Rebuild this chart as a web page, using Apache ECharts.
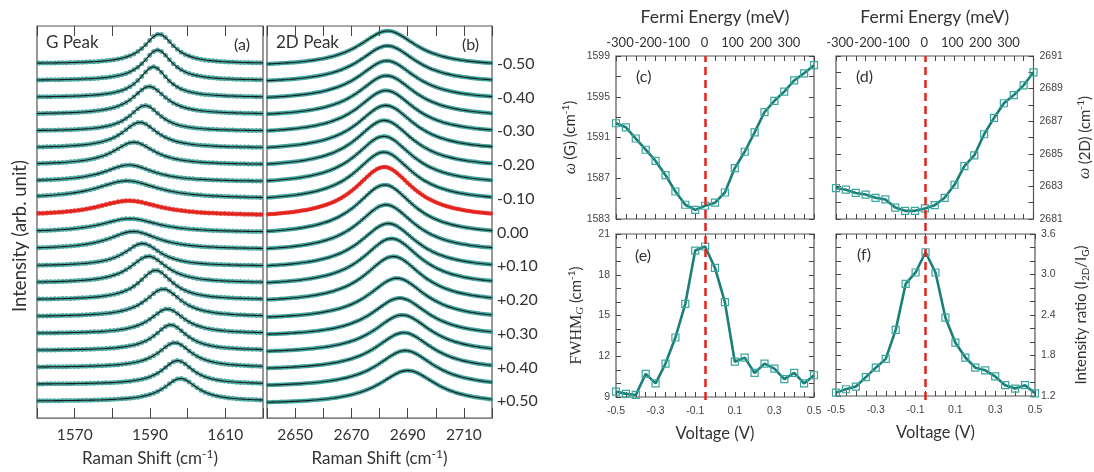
<!DOCTYPE html>
<html>
<head>
<meta charset="utf-8">
<script src="https://cdn.jsdelivr.net/npm/echarts@6/dist/echarts.min.js"></script>
<style>
  html, body { margin: 0; padding: 0; background: #fff; }
  #chart { width: 1094px; height: 472px; }
</style>
</head>
<body>
<div id="chart"></div>
<script>
// gate voltage of each spectrum / each point in (c)-(f)
const voltages = [-0.50, -0.45, -0.40, -0.35, -0.30, -0.25, -0.20, -0.15, -0.10, -0.05,
  0.00, 0.05, 0.10, 0.15, 0.20, 0.25, 0.30, 0.35, 0.40, 0.45, 0.50]
// (c) G peak position (cm-1)
const posG = [1592.4, 1592.0, 1590.9, 1589.8, 1588.7, 1587.3, 1585.7, 1584.4, 1583.9, 1584.3,
  1584.6, 1585.6, 1588.0, 1589.6, 1591.5, 1593.5, 1594.6, 1595.5, 1596.6, 1597.3, 1598.1]
// (d) 2D peak position (cm-1)
const pos2D = [2682.9, 2682.8, 2682.6, 2682.5, 2682.3, 2682.2, 2681.7, 2681.5, 2681.5, 2681.65,
  2681.85, 2682.3, 2683.1, 2684.25, 2684.9, 2686.2, 2687.2, 2688.1, 2688.6, 2689.2, 2690.0]
// (e) FWHM of G (cm-1)
const fwhmG = [9.4, 9.23, 9.15, 10.7, 10.0, 11.46, 13.38, 15.86, 19.78, 20.08,
  18.5, 15.98, 11.6, 11.9, 10.77, 11.46, 11.09, 10.32, 10.77, 10.0, 10.6]
// (f) I2D / IG
const ratio = [1.25, 1.30, 1.34, 1.48, 1.62, 1.75, 2.18, 2.86, 3.03, 3.33,
  3.03, 2.36, 1.99, 1.77, 1.62, 1.58, 1.49, 1.36, 1.31, 1.36, 1.24]
// peak heights of the stacked spectra (a) and (b), arb. unit (spacing between spectra = 1)
const heightG = [1.76, 1.82, 1.82, 1.65, 1.53, 1.53, 1.35, 1.0, 1.06, 0.88,
  0.82, 1.06, 1.35, 1.59, 1.76, 1.65, 1.47, 1.53, 1.47, 1.41, 1.35]
const height2D = [2.12, 2.24, 2.35, 2.47, 2.59, 2.71, 2.82, 2.88, 2.94, 3.06,
  3.0, 2.82, 2.71, 2.82, 2.76, 2.47, 2.29, 2.29, 2.24, 2.18, 2.0]
const fwhm2D = 25
const base2DShift = -0.18
const highlight = 9 // V = -0.05 (charge neutrality), drawn in red

// tick labels
const offsetLabels = ['-0.50', '-0.40', '-0.30', '-0.20', '-0.10', '0.00', '+0.10', '+0.20', '+0.30', '+0.40', '+0.50']
const ramanGLabels = [1570, 1590, 1610]
const raman2DLabels = [2650, 2670, 2690, 2710]
const fermiLabels = [-300, -200, -100, 0, 100, 200, 300]
const voltLabels = [-0.5, -0.3, -0.1, 0.1, 0.3, 0.5]
const voltTicks = [-0.5, -0.45, -0.4, -0.35, -0.3, -0.25, -0.2, -0.15, -0.1, -0.05, 0,
  0.05, 0.1, 0.15, 0.2, 0.25, 0.3, 0.35, 0.4, 0.45, 0.5]
const gLabels = [1583, 1587, 1591, 1595, 1599]
const gTicks = [1583, 1585, 1587, 1589, 1591, 1593, 1595, 1597, 1599]
const d2Labels = [2681, 2683, 2685, 2687, 2689, 2691]
const d2Ticks = [2681, 2682, 2683, 2684, 2685, 2686, 2687, 2688, 2689, 2690, 2691]
const fwLabels = [9, 12, 15, 18, 21]
const fwTicks = [9, 10, 11, 12, 13, 14, 15, 16, 17, 18, 19, 20, 21]
const rLabels = [1.2, 1.8, 2.4, 3.0, 3.6]
const rTicks = [1.2, 1.4, 1.6, 1.8, 2.0, 2.2, 2.4, 2.6, 2.8, 3.0, 3.2, 3.4, 3.6]

const FONT = 'Lato'
const TEAL = '#1b7f78'
const DOT = '#23948c'
const RED = '#e3231b'

const chart = echarts.init(document.getElementById('chart'), null, { renderer: 'canvas' })

function lor(x, c, w) {
  const g = w / 2
  return g * g / ((x - c) * (x - c) + g * g)
}

function spectrum(x0, x1, step, c, w, h, base) {
  const arr = []
  for (let x = x0; x <= x1 + 1e-9; x += step) {
    arr.push([x, base + h * lor(x, c, w)])
  }
  return arr
}

const series = []
voltages.forEach((v, i) => {
  const red = i === highlight
  const baseG = 20 - i
  const base2 = 20 - i + base2DShift
  // (a) G
  series.push({
    type: 'scatter', xAxisIndex: 0, yAxisIndex: 0, symbolSize: 5, silent: true,
    itemStyle: { color: red ? RED : DOT },
    data: spectrum(1560.5, 1619.6, 1.05, posG[i], fwhmG[i], heightG[i], baseG)
  })
  series.push({
    type: 'line', xAxisIndex: 0, yAxisIndex: 0, showSymbol: false, silent: true, z: 3,
    lineStyle: { color: red ? RED : '#1a1a1a', width: red ? 2.6 : 1.1 },
    data: spectrum(1560, 1620, 0.25, posG[i], fwhmG[i], heightG[i], baseG)
  })
  // (b) 2D
  series.push({
    type: 'scatter', xAxisIndex: 2, yAxisIndex: 1, symbolSize: 4.5, silent: true,
    itemStyle: { color: red ? RED : DOT },
    data: spectrum(2640.4, 2719.8, 0.9, pos2D[i], fwhm2D, height2D[i], base2)
  })
  series.push({
    type: 'line', xAxisIndex: 2, yAxisIndex: 1, showSymbol: false, silent: true, z: 3,
    lineStyle: { color: red ? RED : '#1a1a1a', width: red ? 2.6 : 1.1 },
    data: spectrum(2640, 2720, 0.25, pos2D[i], fwhm2D, height2D[i], base2)
  })
})

function trend(values, xi, yi) {
  return {
    type: 'line', xAxisIndex: xi, yAxisIndex: yi, z: 4,
    symbol: 'rect', symbolSize: 7, showAllSymbol: true,
    lineStyle: { color: TEAL, width: 2.6 },
    itemStyle: { color: 'rgba(255,255,255,0)', borderColor: '#3aa69d', borderWidth: 1.2 },
    data: voltages.map((v, i) => [v, values[i]])
  }
}
series.push(trend(posG, 4, 2))
series.push(trend(pos2D, 7, 4))
series.push(trend(fwhmG, 10, 6))
series.push(trend(ratio, 12, 8))

// dashed neutrality line across (c)+(e) and (d)+(f)
function dashLine(xi, yi) {
  return {
    type: 'line', xAxisIndex: xi, yAxisIndex: yi, data: [], z: 6,
    markLine: {
      silent: true, symbol: 'none', label: { show: false },
      lineStyle: { color: RED, type: [8, 5], width: 2.5 },
      data: [{ xAxis: voltages[highlight] }]
    }
  }
}
series.push(dashLine(14, 10))
series.push(dashLine(15, 11))

const txt = { color: '#333', fontFamily: FONT }
const smallLab = { color: '#444', fontFamily: 'Liberation Sans', fontSize: 10.5 }
const tickIn = (len, vals) => ({ show: true, inside: true, length: len, lineStyle: { color: '#444', width: 1 }, customValues: vals })
const noLine = { show: false, onZero: false }
const hidden = { show: false }

function supRich(size) {
  return {
    n: { fontFamily: FONT, fontSize: size, color: '#333', lineHeight: size + 4 },
    s: { fontFamily: FONT, fontSize: size - 5, color: '#333', verticalAlign: 'top', lineHeight: size - 3 },
    b: { fontFamily: FONT, fontSize: size - 5, color: '#333', verticalAlign: 'bottom', lineHeight: size - 5 },
    w: { fontFamily: 'Liberation Serif', fontStyle: 'italic', fontSize: size + 1, color: '#333', lineHeight: size + 4 },
    f: { fontFamily: 'Liberation Serif', fontSize: size + 1, color: '#333', lineHeight: size + 4 },
    fi: { fontFamily: 'Liberation Serif', fontStyle: 'italic', fontSize: size - 4, color: '#333', verticalAlign: 'bottom', lineHeight: size - 5 }
  }
}

const gridA = { left: 37, top: 26, width: 226, height: 395 }
const gridB = { left: 267, top: 26, width: 225, height: 395 }
const gridC = { left: 616, top: 56, width: 198, height: 163 }
const gridD = { left: 836, top: 56, width: 199, height: 163 }
const gridE = { left: 616, top: 234, width: 198, height: 163 }
const gridF = { left: 836, top: 234, width: 199, height: 162 }
const border = { show: true, borderColor: '#555', borderWidth: 1.2, backgroundColor: 'transparent' }

const voltBottom = (gi, labels) => ({
  type: 'value', gridIndex: gi, position: 'bottom', min: -0.5, max: 0.5,
  axisLine: noLine, splitLine: hidden,
  axisTick: tickIn(5, voltTicks),
  axisLabel: labels ? { ...smallLab, margin: 9, customValues: voltLabels, formatter: v => v.toFixed(1) } : hidden,
  name: labels ? 'Voltage (V)' : '', nameLocation: 'middle', nameGap: 28,
  nameTextStyle: { ...txt, fontSize: 16.5 }
})
const voltTop = gi => ({
  type: 'value', gridIndex: gi, position: 'top', min: -0.5, max: 0.5,
  axisLine: noLine, splitLine: hidden, axisTick: tickIn(5, voltTicks), axisLabel: hidden
})
const fermiTop = gi => ({
  type: 'value', gridIndex: gi, position: 'top', min: -314, max: 389,
  axisLine: noLine, splitLine: hidden, axisTick: hidden,
  axisLabel: { ...txt, fontSize: 13, margin: 7, customValues: fermiLabels, formatter: v => String(v) },
  name: 'Fermi Energy (meV)', nameLocation: 'middle', nameGap: 30,
  nameTextStyle: { ...txt, fontSize: 17.5 }
})
const valAxis = (gi, pos, min, max, ticks, labels, fmt, name, gap) => ({
  type: 'value', gridIndex: gi, position: pos, min, max,
  axisLine: noLine, splitLine: hidden, axisTick: tickIn(5, ticks),
  axisLabel: labels ? { ...smallLab, margin: 6, customValues: labels, formatter: fmt } : hidden,
  name: name || '', nameLocation: 'middle', nameGap: gap || 0,
  nameTextStyle: { rich: supRich(15) }
})

chart.setOption({
  animation: false,
  backgroundColor: '#fff',
  title: [
    { text: 'G Peak', left: 41, top: 29, textStyle: { ...txt, fontSize: 17, fontWeight: 'normal' } },
    { text: '(a)', left: 229, top: 32, textStyle: { ...txt, fontSize: 16, fontWeight: 'normal' } },
    { text: '2D Peak', left: 271, top: 29, textStyle: { ...txt, fontSize: 17, fontWeight: 'normal' } },
    { text: '(b)', left: 457, top: 32, textStyle: { ...txt, fontSize: 16, fontWeight: 'normal' } },
    { text: '(c)', left: 631, top: 64, textStyle: { ...txt, fontSize: 16, fontWeight: 'normal' } },
    { text: '(d)', left: 851, top: 64, textStyle: { ...txt, fontSize: 16, fontWeight: 'normal' } },
    { text: '(e)', left: 630, top: 243, textStyle: { ...txt, fontSize: 16, fontWeight: 'normal' } },
    { text: '(f)', left: 852, top: 242, textStyle: { ...txt, fontSize: 16, fontWeight: 'normal' } }
  ],
  graphic: [
    {
      type: 'text', x: 20, y: 236, rotation: Math.PI / 2, silent: true,
      style: { text: 'Intensity (arb. unit)', fill: '#333', font: '18.5px Lato', align: 'center', verticalAlign: 'middle' }
    }
  ],
  grid: [
    { ...gridA, ...border },
    { ...gridB, ...border },
    { ...gridC, ...border },
    { ...gridD, ...border },
    { ...gridE, ...border },
    { ...gridF, ...border },
    { left: 616, top: 56, width: 198, height: 344, show: false },
    { left: 836, top: 56, width: 199, height: 344, show: false }
  ],
  xAxis: [
    // 0,1 : (a)
    {
      type: 'value', gridIndex: 0, min: 1560, max: 1620, interval: 10,
      axisLine: noLine, splitLine: hidden, axisTick: tickIn(10),
      axisLabel: { ...txt, fontSize: 15.5, margin: 9, customValues: ramanGLabels, formatter: v => String(v) },
      name: '{n|Raman Shift (cm}{s|-1}{n|)}', nameLocation: 'middle', nameGap: 29,
      nameTextStyle: { rich: supRich(17) }
    },
    { type: 'value', gridIndex: 0, position: 'top', min: 1560, max: 1620, interval: 10,
      axisLine: noLine, splitLine: hidden, axisTick: tickIn(10), axisLabel: hidden },
    // 2,3 : (b)
    {
      type: 'value', gridIndex: 1, min: 2640, max: 2720, interval: 10,
      axisLine: noLine, splitLine: hidden, axisTick: tickIn(10),
      axisLabel: { ...txt, fontSize: 15.5, margin: 9, customValues: raman2DLabels, formatter: v => String(v) },
      name: '{n|Raman Shift (cm}{s|-1}{n|)}', nameLocation: 'middle', nameGap: 29,
      nameTextStyle: { rich: supRich(17) }
    },
    { type: 'value', gridIndex: 1, position: 'top', min: 2640, max: 2720, interval: 10,
      axisLine: noLine, splitLine: hidden, axisTick: tickIn(10), axisLabel: hidden },
    // 4,5,6 : (c)
    voltBottom(2, false), voltTop(2), fermiTop(2),
    // 7,8,9 : (d)
    voltBottom(3, false), voltTop(3), fermiTop(3),
    // 10,11 : (e)
    voltBottom(4, true), voltTop(4),
    // 12,13 : (f)
    voltBottom(5, true), voltTop(5),
    // 14,15 : overlays for the dashed line
    { type: 'value', gridIndex: 6, min: -0.5, max: 0.5, show: false },
    { type: 'value', gridIndex: 7, min: -0.5, max: 0.5, show: false }
  ],
  yAxis: [
    // 0 : (a)
    {
      type: 'value', gridIndex: 0, min: -1, max: 22.235,
      axisLine: noLine, splitLine: hidden, axisTick: hidden, axisLabel: hidden
    },
    // 1 : (b), offset voltage labels on the right
    {
      type: 'value', gridIndex: 1, position: 'right', min: -1, max: 22.235,
      axisLine: noLine, splitLine: hidden, axisTick: hidden,
      axisLabel: {
        ...txt, fontSize: 16, margin: 5,
        customValues: offsetLabels.map((t, k) => 20 - 2 * k),
        formatter: v => offsetLabels[Math.round((20 - v) / 2)]
      }
    },
    // 2,3 : (c)
    valAxis(2, 'left', 1583, 1599, gTicks, gLabels, v => String(v),
      '{w|ω} {n|(G) (cm}{s|-1}{n|)}', 36),
    valAxis(2, 'right', 1583, 1599, gTicks, null),
    // 4,5 : (d)
    valAxis(3, 'right', 2681, 2691, d2Ticks, d2Labels, v => String(v),
      '{w|ω} {n|(2D) (cm}{s|-1}{n|)}', 42),
    valAxis(3, 'left', 2681, 2691, d2Ticks, null),
    // 6,7 : (e)
    valAxis(4, 'left', 9, 21, fwTicks, fwLabels, v => String(v),
      '{f|FWHM}{fi|G}{n| (cm}{s|-1}{n|)}', 30),
    valAxis(4, 'right', 9, 21, fwTicks, null),
    // 8,9 : (f)
    valAxis(5, 'right', 1.2, 3.6, rTicks, rLabels, v => v.toFixed(1),
      '{n|Intensity ratio (I}{b|2D}{n|/I}{b|G}{n|)}', 37),
    valAxis(5, 'left', 1.2, 3.6, rTicks, null),
    // 10,11 overlays
    { type: 'value', gridIndex: 6, min: 0, max: 1, show: false },
    { type: 'value', gridIndex: 7, min: 0, max: 1, show: false }
  ],
  series
})
</script>
</body>
</html>
